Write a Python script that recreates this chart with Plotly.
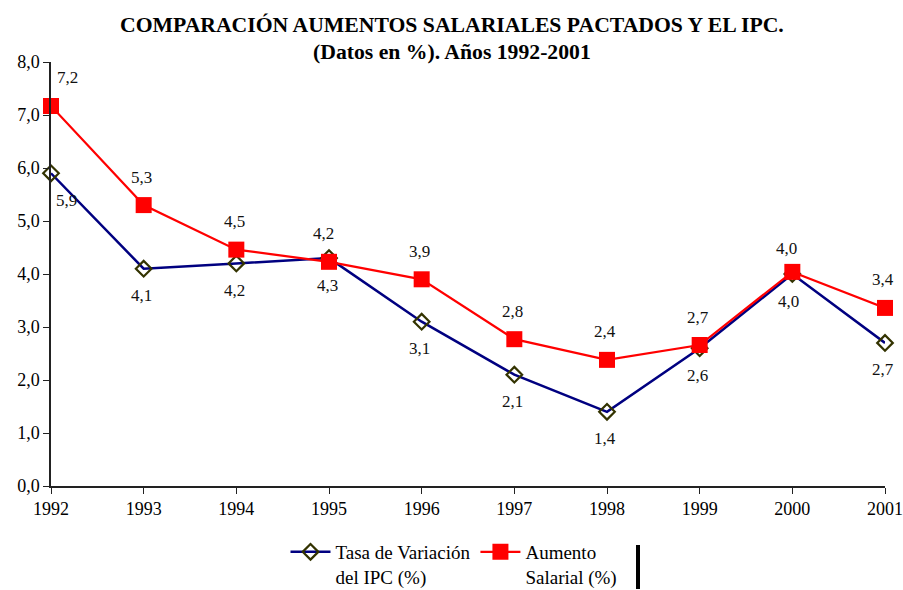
import plotly.graph_objects as go

years = [1992, 1993, 1994, 1995, 1996, 1997, 1998, 1999, 2000, 2001]
ipc = [5.9, 4.1, 4.2, 4.3, 3.1, 2.1, 1.4, 2.6, 4.0, 2.7]
salarial = [7.17, 5.30, 4.46, 4.23, 3.90, 2.77, 2.38, 2.66, 4.04, 3.36]
y_ticks = [0, 1, 2, 3, 4, 5, 6, 7, 8]

FONT = "Liberation Serif"
W, H = 903, 590
PLOT_LEFT, PLOT_RIGHT = 51, 885
PLOT_TOP, PLOT_BOTTOM = 62, 486
PH = PLOT_BOTTOM - PLOT_TOP
PW = PLOT_RIGHT - PLOT_LEFT

def py(px):
    return (PLOT_BOTTOM - px) / PH

def pxx(px):
    return (px - PLOT_LEFT) / PW

def fmt(v):
    return f"{v:.1f}".replace(".", ",")

fig = go.Figure()
fig.add_trace(go.Scatter(
    x=years, y=ipc, mode="lines+markers",
    name="Tasa de Variación<br>del IPC (%)",
    line=dict(color="#000080", width=2.5),
    marker=dict(symbol="diamond-open", size=12, color="#333300", line=dict(width=2.2, color="#333300")),
    cliponaxis=False,
))
fig.add_trace(go.Scatter(
    x=years, y=salarial, mode="lines+markers",
    name="Aumento<br>Salarial (%)",
    line=dict(color="#FF0000", width=2.2),
    marker=dict(symbol="square", size=16, color="#FF0000"),
    cliponaxis=False,
))

annotations = []
n = len(years)
for i, (x, v) in enumerate(zip(years, salarial)):
    xs = 16 if i == 0 else (-6 if i in (3, n - 2) else -2)
    ys = 23 if i == n - 2 else 28
    annotations.append(dict(x=x, y=v, text=fmt(v), showarrow=False,
                            xshift=xs, yshift=ys,
                            font=dict(family=FONT, size=17, color="#111")))
for i, (x, v) in enumerate(zip(years, ipc)):
    xs = 15 if i == 0 else (-4 if i == n - 2 else -2)
    annotations.append(dict(x=x, y=v, text=fmt(v), showarrow=False,
                            xshift=xs, yshift=-27,
                            font=dict(family=FONT, size=17, color="#111")))

title_lines = ["COMPARACIÓN AUMENTOS SALARIALES PACTADOS Y EL IPC.",
               "(Datos en %). Años 1992-2001"]
for line, ypx in zip(title_lines, [25, 52]):
    annotations.append(dict(xref="paper", yref="paper", x=pxx(452), y=py(ypx),
                            xanchor="center", yanchor="middle", showarrow=False,
                            text=f"<b>{line}</b>",
                            font=dict(family=FONT, size=21.7, color="black")))

fig.update_layout(
    width=W, height=H,
    margin=dict(l=PLOT_LEFT, r=W - PLOT_RIGHT, t=PLOT_TOP, b=H - PLOT_BOTTOM,
                autoexpand=False),
    paper_bgcolor="white", plot_bgcolor="white",
    separators=",.",
    font=dict(family=FONT, size=18, color="black"),
    xaxis=dict(range=[1992, 2001], tickvals=years, ticktext=[str(y) for y in years],
               showgrid=False, zeroline=False, showline=True, linecolor="#222", linewidth=1.5,
               ticks="outside", ticklen=6, tickcolor="#222", tickfont=dict(size=18),
               automargin=False),
    yaxis=dict(range=[0, 8], tickvals=y_ticks, tickformat=".1f",
               showgrid=False, zeroline=False, showline=True, linecolor="#222", linewidth=1.5,
               ticks="outside", ticklen=6, tickcolor="#222", tickfont=dict(size=18),
               automargin=False),
    legend=dict(orientation="h", x=pxx(454), xanchor="center", y=py(533), yanchor="top",
                font=dict(family=FONT, size=19), bgcolor="rgba(0,0,0,0)", valign="top",
                itemwidth=40),
    annotations=annotations,
    shapes=[dict(type="line", xref="paper", yref="paper", x0=pxx(638), x1=pxx(638),
                 y0=py(545), y1=py(589), line=dict(color="black", width=4))],
    showlegend=True,
)

fig.write_html("out.html",
               config={"displayModeBar": False},
               post_script="document.body.style.margin='0';document.body.style.overflow='hidden';")
